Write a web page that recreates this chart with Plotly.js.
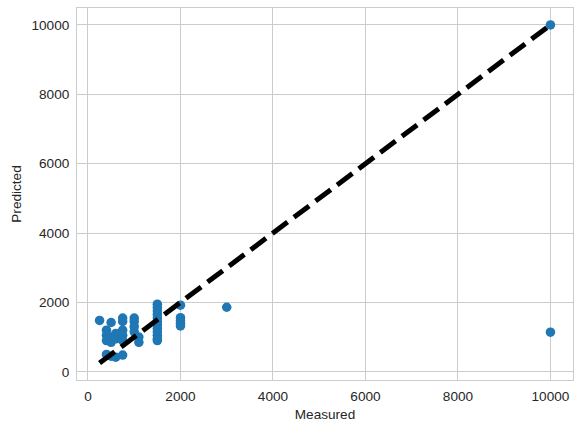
<!DOCTYPE html>
<html>
<head>
<meta charset="utf-8">
<script src="https://cdn.plot.ly/plotly-3.0.1.min.js"></script>
<style>
  html, body { margin: 0; padding: 0; background: #fff; }
  #chart { width: 582px; height: 428px; }
</style>
</head>
<body>
<div id="chart"></div>
<script>
'use strict';

const ID = 'chart';

// measured vs predicted
const measured = [
  250,
  400, 400, 400, 400,
  500, 500, 500, 500,
  600, 600, 600,
  750, 750, 750, 750, 750, 750,
  1000, 1000, 1000, 1000,
  1100, 1100,
  1500, 1500, 1500, 1500, 1500, 1500, 1500, 1500, 1500, 1500, 1500, 1500,
  2000, 2000, 2000, 2000, 2000,
  3000,
  10000, 10000
];
const predicted = [
  1480,
  1200, 1050, 900, 500,
  1420, 1000, 850, 450,
  1100, 950, 420,
  1550, 1450, 1200, 1050, 900, 480,
  1550, 1450, 1300, 1150,
  1000, 850,
  1950, 1850, 1750, 1650, 1550, 1450, 1350, 1250, 1150, 1050, 950, 900,
  1920, 1560, 1480, 1400, 1320,
  1860,
  10000, 1140
];
const ticks = [0, 2000, 4000, 6000, 8000, 10000];

const lo = Math.min(...measured);
const hi = Math.max(...measured);
const pad = (hi - lo) * 0.05;
const axisRange = [lo - pad, hi + pad];

const textColor = '#262626';
const gridColor = '#cccccc';
const font = {family: 'Liberation Sans, Arial, sans-serif', size: 13.6, color: textColor};

const data = [];

data.push({
  x: measured,
  y: predicted,
  type: 'scatter',
  mode: 'markers',
  marker: {
    color: '#1f77b4',
    size: 9.5,
    line: {width: 0}
  },
  hoverinfo: 'x+y'
});

// ideal fit line from min to max
data.push({
  x: [lo, hi],
  y: [lo, hi],
  type: 'scatter',
  mode: 'lines',
  line: {
    color: 'black',
    width: 5,
    dash: '19px,8px'
  },
  hoverinfo: 'skip'
});

const axisBase = {
  range: axisRange,
  tickvals: ticks,
  ticktext: ticks.map(String),
  showgrid: true,
  gridcolor: gridColor,
  gridwidth: 1,
  zeroline: false,
  showline: true,
  mirror: true,
  linecolor: gridColor,
  linewidth: 1,
  ticks: 'outside',
  ticklen: 4,
  tickcolor: 'rgba(0,0,0,0)',
  tickfont: font
};

const layout = {
  width: 582,
  height: 428,
  showlegend: false,
  paper_bgcolor: '#ffffff',
  plot_bgcolor: '#ffffff',
  font: font,
  margin: {l: 77, r: 9, t: 8, b: 48},
  xaxis: Object.assign({}, axisBase, {
    title: {text: 'Measured', font: font, standoff: 6}
  }),
  yaxis: Object.assign({}, axisBase, {
    title: {text: 'Predicted', font: font, standoff: 6}
  })
};

Plotly.newPlot(ID, data, layout, {staticPlot: true});
</script>
</body>
</html>
